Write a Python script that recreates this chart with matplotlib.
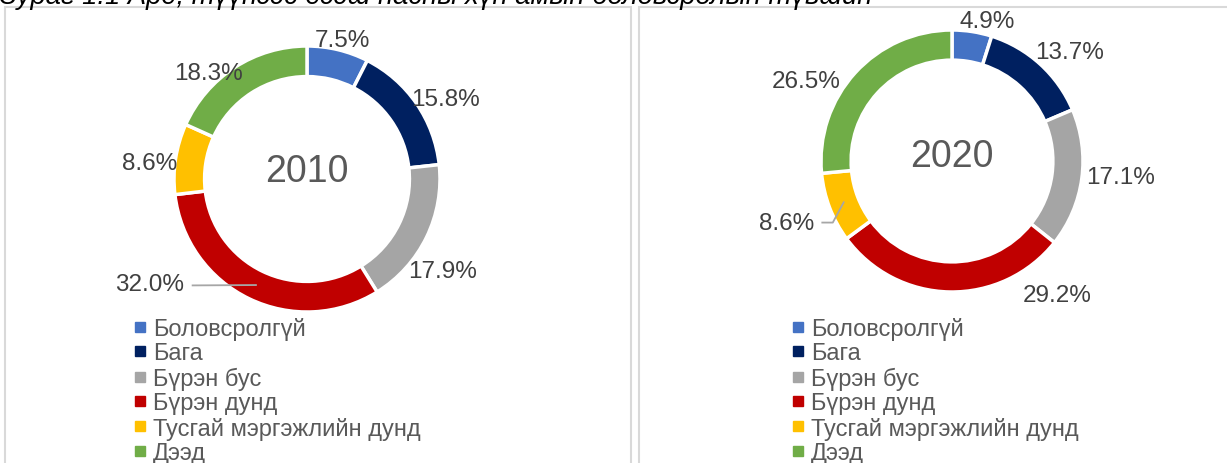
import numpy as np
import matplotlib.pyplot as plt
from matplotlib.lines import Line2D
from matplotlib.patches import Rectangle

plt.rcParams['font.family'] = ['Liberation Sans', 'DejaVu Sans']

categories = ['Боловсролгүй', 'Бага', 'Бүрэн бус', 'Бүрэн дунд',
              'Тусгай мэргэжлийн дунд', 'Дээд']
colors = ['#4472C4', '#002060', '#A5A5A5', '#C00000', '#FFC000', '#70AD47']
years = ['2010', '2020']
values_2010 = [7.5, 15.8, 17.9, 32.0, 8.6, 18.3]
values_2020 = [4.9, 13.7, 17.1, 29.2, 8.6, 26.5]
title = 'Зураг 1.1 Ард, түүнээс дээш насны хүн амын боловсролын түвшин'

W, H = 1227, 464
fig = plt.figure(figsize=(W / 100, H / 100), dpi=100)

# panel frames
for x0, x1 in [(5, 631), (639, 1235)]:
    fig.patches.append(Rectangle((x0 / W, -0.05), (x1 - x0) / W, (H - 8) / H + 0.05,
                                 transform=fig.transFigure, fill=False,
                                 edgecolor='#D9D9D9', linewidth=1.5))

# title is cut at the top edge in the original
fig.text(0.0, 1 - 4 / H, title, fontsize=19.7, style='italic', color='black',
         ha='left', va='baseline')

# label positions in radius units (as placed in the original)
lab_2010 = [(0.27, 1.045), (1.04, 0.60), (1.02, -0.69), (-1.18, -0.79), (-1.18, 0.12), (-0.74, 0.80)]
lab_2020 = [(0.27, 1.07), (0.90, 0.83), (1.29, -0.12), (0.80, -1.02), (-1.26, -0.47), (-1.11, 0.61)]

charts = [
    dict(vals=values_2010, year=years[0], c=(307, 180), r=133, labs=lab_2010,
         leader={3: [(-0.86, -0.80)]}, ytitle=0.06, leg=(134, 318)),
    dict(vals=values_2020, year=years[1], c=(952, 162), r=131, labs=lab_2020,
         leader={4: [(-0.99, -0.47), (-0.91, -0.47)]}, ytitle=0.04, leg=(792, 318)),
]

for ch in charts:
    cx, cy = ch['c']
    r = ch['r']
    lim = 1.35
    s = 2 * r * lim
    ax = fig.add_axes([(cx - s / 2) / W, (H - cy - s / 2) / H, s / W, s / H])
    wedges, _ = ax.pie(ch['vals'], colors=colors, startangle=90, counterclock=False,
                       radius=1, wedgeprops=dict(width=0.23, edgecolor='white', linewidth=2.5))
    ax.set_xlim(-lim, lim)
    ax.set_ylim(-lim, lim)
    ax.set_aspect('equal')
    ax.axis('off')
    ax.text(0, ch['ytitle'], ch['year'], fontsize=27, color='#595959', ha='center', va='center')

    tot = sum(ch['vals'])
    cum = np.cumsum([0] + list(ch['vals']))
    for i, v in enumerate(ch['vals']):
        lx, ly = ch['labs'][i]
        ax.text(lx, ly, f'{v:.1f}%', fontsize=17.5, color='#404040', ha='center', va='center')
        if i in ch['leader']:
            mid = np.deg2rad(90 - (cum[i] + v / 2) / tot * 360)
            pts = ch['leader'][i] + [(0.885 * np.cos(mid), 0.885 * np.sin(mid))]
            xs, ys = zip(*pts)
            ax.plot(xs, ys, color='#A6A6A6', linewidth=1.3, clip_on=False)

    handles = [Line2D([], [], marker='s', linestyle='none', markersize=7,
                      markerfacecolor=c, markeredgecolor=c) for c in colors]
    lx, ly = ch['leg']
    fig.legend(handles, categories, loc='upper left',
               bbox_to_anchor=(lx / W, 1 - ly / H), frameon=False,
               fontsize=17, labelcolor='#595959', handlelength=0.5,
               handletextpad=0.3, labelspacing=0.1, borderpad=0, borderaxespad=0)

fig.savefig('out.png', dpi=100)
